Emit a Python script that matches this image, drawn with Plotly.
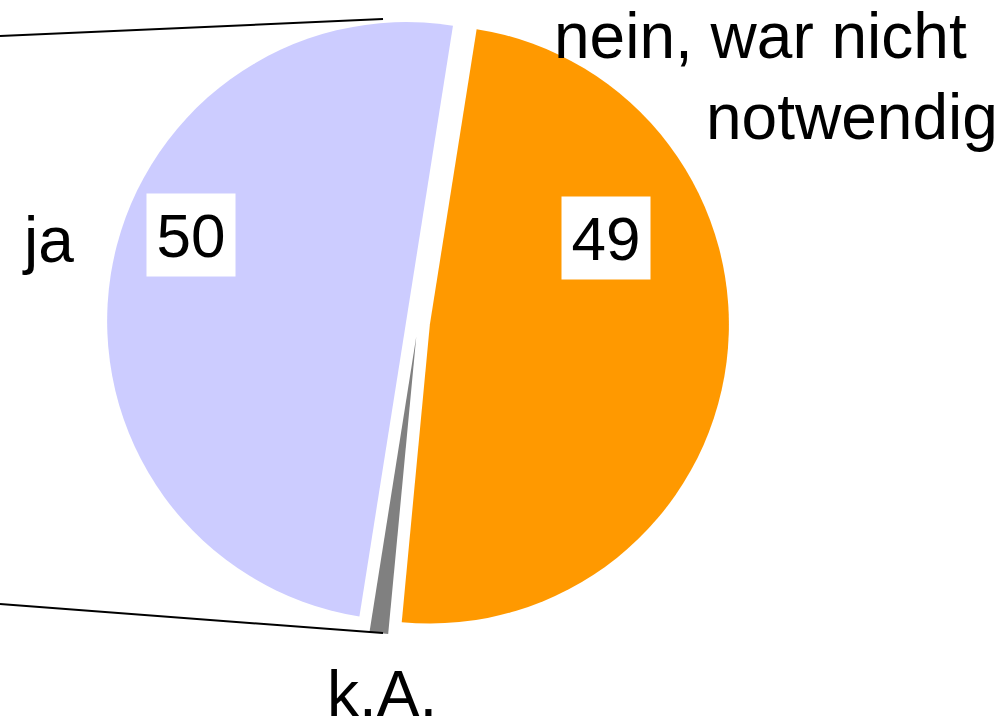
import plotly.graph_objects as go

W, H = 999, 718

labels = ["nein, war nicht notwendig", "k.A.", "ja"]
values = [49, 1, 50]
colors = ["#FF9900", "#808080", "#CCCCFF"]
pulls = [0.04, 0.045, 0.04]

# label texts (the long label is shown on two lines)
nein_lines = ["nein, war nicht", "notwendig"]
value_texts = [str(v) for v in values]

FONT = "Liberation Sans, Arial, sans-serif"
FS_LAB = 64
FS_VAL = 62

def px(x, y):
    return x / W, 1 - y / H

def mid_from_baseline(b, fs):
    return b - 0.3465 * fs + 1.5

fig = go.Figure()
fig.add_trace(go.Pie(
    labels=labels, values=values, sort=False, direction="clockwise",
    rotation=9, pull=pulls,
    marker=dict(colors=colors, line=dict(width=0)),
    textinfo="none", hoverinfo="label+value", showlegend=False,
    domain=dict(x=[105.5 / W, 730.5 / W], y=[1 - 635.5 / H, 1 - 10.5 / H]),
))

anns = []
# outside labels: (text, anchor x px, baseline px, xanchor)
for t, ax, base, xa in [
    (nein_lines[0], 968, 57, "right"),
    (nein_lines[1], 999, 138, "right"),
    (labels[1], 382, 715, "center"),
    (labels[2], 47.5, 261, "center"),
]:
    x, y = px(ax, mid_from_baseline(base, FS_LAB))
    anns.append(dict(x=x, y=y, text=t, xref="paper", yref="paper", showarrow=False,
                     xanchor=xa, yanchor="middle", borderpad=0,
                     font=dict(family=FONT, size=FS_LAB, color="black")))

# value boxes
for (cx, cy), t in [((606, 238), value_texts[0]), ((191, 235), value_texts[2])]:
    x, y = px(cx, cy)
    anns.append(dict(x=x, y=y, text=t, xref="paper", yref="paper", showarrow=False,
                     xanchor="center", yanchor="middle", bgcolor="white",
                     width=80, height=74, borderpad=4,
                     font=dict(family=FONT, size=FS_VAL, color="black")))

shapes = []
for (x0, y0), (x1, y1) in [((0, 36), (383, 19)), ((0, 604), (383, 633))]:
    a0, b0 = px(x0, y0)
    a1, b1 = px(x1, y1)
    shapes.append(dict(type="line", xref="paper", yref="paper", x0=a0, y0=b0, x1=a1, y1=b1,
                       line=dict(color="black", width=2)))

fig.update_layout(
    width=W, height=H, margin=dict(l=0, r=0, t=0, b=0),
    paper_bgcolor="white", plot_bgcolor="white",
    annotations=anns, shapes=shapes,
)
fig.write_html("out.html", config={"displayModeBar": False},
               post_script="document.body.style.margin='0';document.body.style.overflow='hidden';")
